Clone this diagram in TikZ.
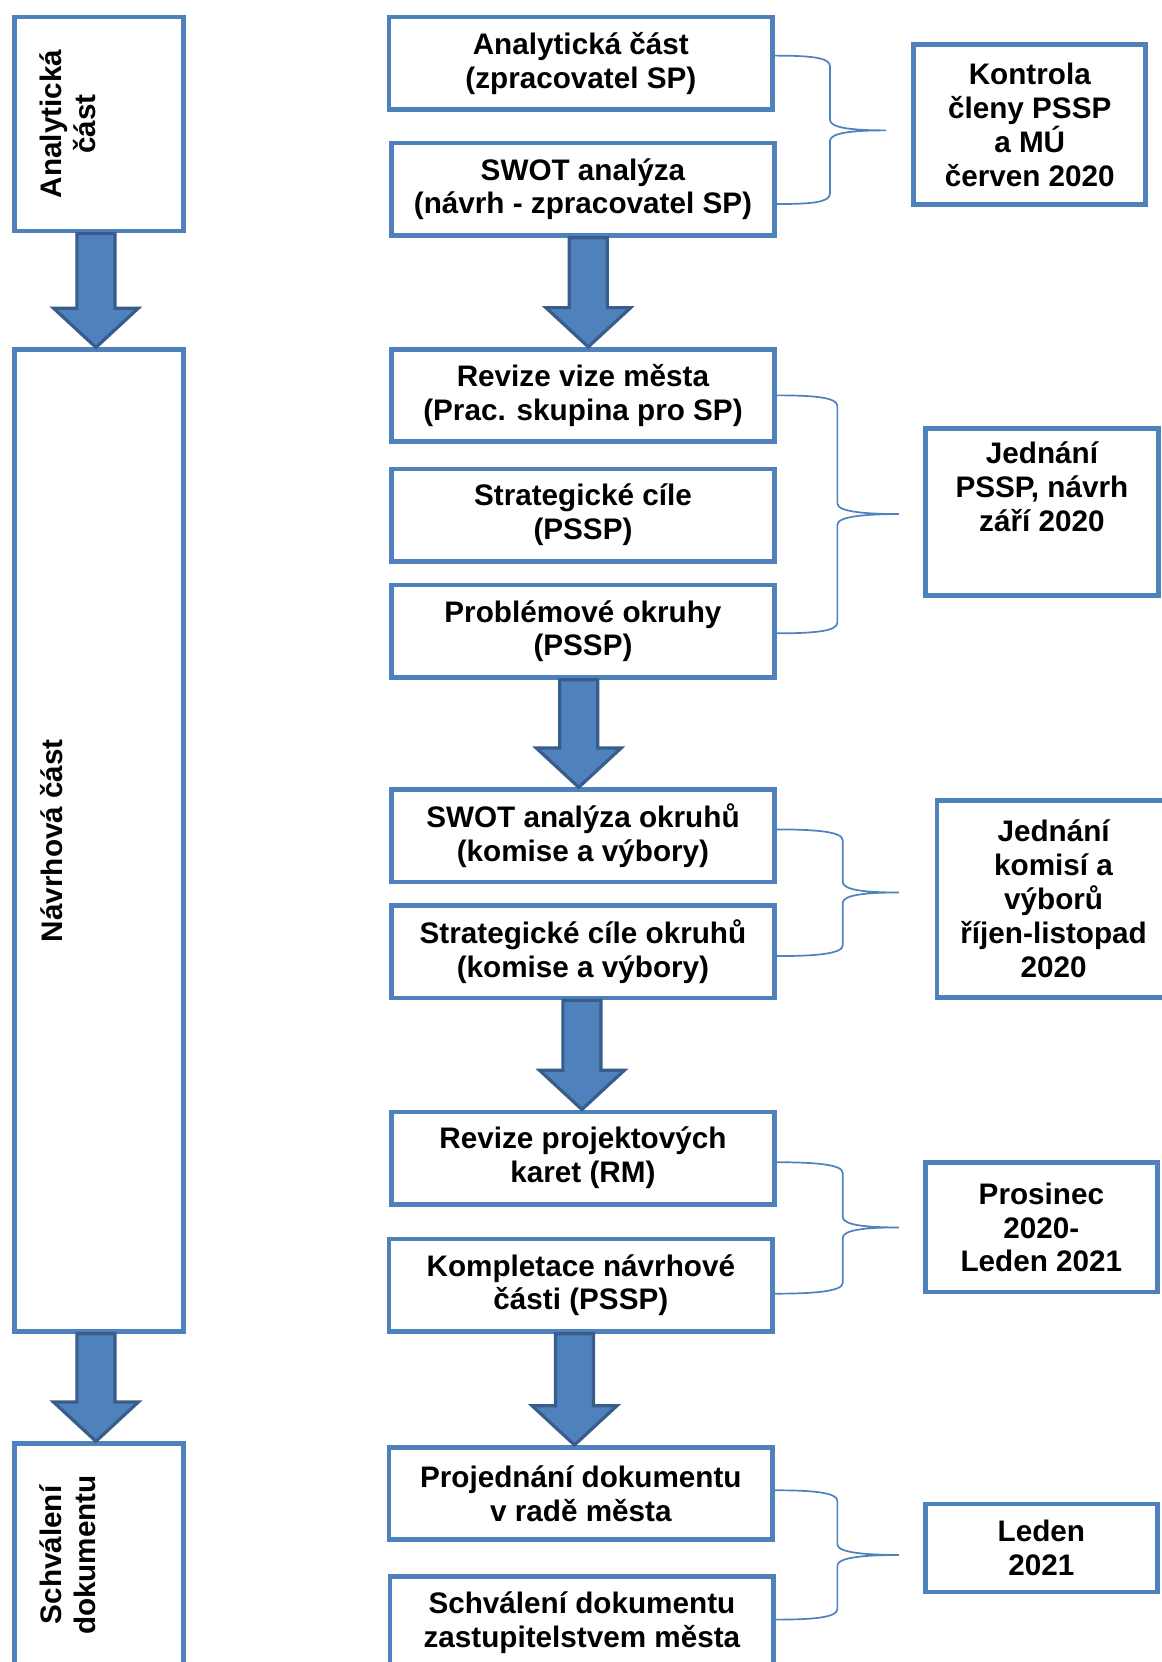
\documentclass[tikz,border=0pt]{standalone}
\usepackage{fontspec}
\setsansfont{Liberation Sans}
\usepackage{tikz}
\usetikzlibrary{calc}
\definecolor{boxblue}{HTML}{4F81BD}
\definecolor{arrowedge}{HTML}{385D8A}
\tikzset{
  txt/.style={font=\sffamily\bfseries\fontsize{28}{32}\selectfont, text=black},
  box/.style={txt, draw=boxblue, line width=4.5pt, fill=white, align=center,
    minimum width=362pt, minimum height=87pt, inner sep=4pt},
  side/.style={draw=boxblue, line width=4.5pt, fill=white, minimum width=159pt},
  date/.style={box, minimum width=219pt},
  vlab/.style={txt, rotate=90, anchor=north, align=center, inner sep=0pt},
  arr/.style={fill=boxblue, draw=arrowedge, line width=3pt, line join=miter},
  brace/.style={draw=boxblue, line width=1.6pt},
}
\begin{document}
\begin{tikzpicture}[x=1pt,y=-1pt]
  \useasboundingbox[fill=white] (0,0) rectangle (1096,1568);
  % left column
  \node[side, minimum height=202pt] (anal) at (93.5,117) {};
  \node[side, minimum height=926pt] (navrh) at (93.5,793) {};
  \node[side, minimum height=210pt] (schval) at (93.5,1467) {};
  \node[vlab] (analt) at ($(anal.west)+(26,0)$) {Analytická\\část};
  \node[vlab] (navrht) at ($(navrh.west)+(26,0)$) {Návrhová část};
  \node[vlab] (schvalt) at ($(schval.west)+(26,0)$) {Schválení\\dokumentu};
  % middle column
  \node[box] (A1) at (548,59.5) {Analytická část\\(zpracovatel SP)};
  \node[box] (A2) at (550,178.5) {SWOT analýza\\(návrh - zpracovatel SP)};
  \node[box] (B1) at (550,373) {Revize vize města\\(Prac. skupina pro SP)};
  \node[box] (B2) at (550,486) {Strategické cíle\\(PSSP)};
  \node[box] (B3) at (550,595.5) {Problémové okruhy\\(PSSP)};
  \node[box] (C1) at (550,788.5) {SWOT analýza okruhů\\(komise a výbory)};
  \node[box] (C2) at (550,898) {Strategické cíle okruhů\\(komise a výbory)};
  \node[box] (D1) at (550,1092.5) {Revize projektových\\karet (RM)};
  \node[box] (D2) at (548,1212.5) {Kompletace návrhové\\části (PSSP)};
  \node[box] (E1) at (548,1409) {Projednání dokumentu\\v radě města};
  \node[box] (E2) at (549,1531) {Schválení dokumentu\\zastupitelstvem města};
  % right column
  \node[date, minimum height=151pt] (R1) at (971.5,117.5) {Kontrola\\členy PSSP\\a MÚ\\červen 2020};
  \node[date, minimum width=220pt, minimum height=158pt] (R2) at (983,483) {Jednání\\PSSP, návrh\\září 2020\\[16pt]\mbox{}};
  \node[date, minimum width=220pt, minimum height=186pt] (R3) at (994,848) {Jednání\\komisí a\\výborů\\říjen-listopad\\2020};
  \node[date, minimum height=122pt] (R4) at (982.5,1158) {Prosinec\\2020-\\Leden 2021};
  \node[date, minimum height=83pt] (R5) at (982.5,1460.5) {Leden\\2021};
  % brace tips
  \coordinate (k1) at (836,123);
  \coordinate (k2) at (848,485);
  \coordinate (k3) at (848,842);
  \coordinate (k4) at (848,1158);
  \coordinate (k5) at (848,1467);
  \foreach \u/\du/\l/\dl/\k/\w in {A1/-7/A2/14/k1/53, B1/0/B3/2/k2/58, C1/-6/C2/4/k3/53, D1/4/D2/8/k4/53, E1/-3/E2/-3/k5/58} {
    \coordinate (T) at ($(\u.east)+(0,\du)$);
    \coordinate (B) at ($(\l.east)+(0,\dl)$);
    \coordinate (S) at ($(\k)+(-\w,0)$);
    \draw[brace] (T) .. controls +(35,0) and +(0,-8) .. ($(T -| S)+(0,10)$)
      -- ($(\k -| S)+(0,-10)$) .. controls +(0,8) and +(-30,0) .. (\k)
      .. controls +(-30,0) and +(0,-8) .. ($(\k -| S)+(0,10)$)
      -- ($(B -| S)+(0,-10)$) .. controls +(0,8) and +(35,0) .. (B);
  }
  % block arrows
  \foreach \s/\t/\d in {anal/navrh/-3, navrh/schval/-3, A2/B1/5, B3/C1/-4, C2/D1/-1, D2/E1/-6} {
    \draw[arr] ($(\s.south)+(\d-18,0)$) -- ($(\t.north)+(\d-18,-37)$)
      -- ($(\t.north)+(\d-40,-37)$) -- ($(\t.north)+(\d,0)$)
      -- ($(\t.north)+(\d+40,-37)$) -- ($(\t.north)+(\d+18,-37)$)
      -- ($(\s.south)+(\d+18,0)$) -- cycle;
  }
\end{tikzpicture}
\end{document}
